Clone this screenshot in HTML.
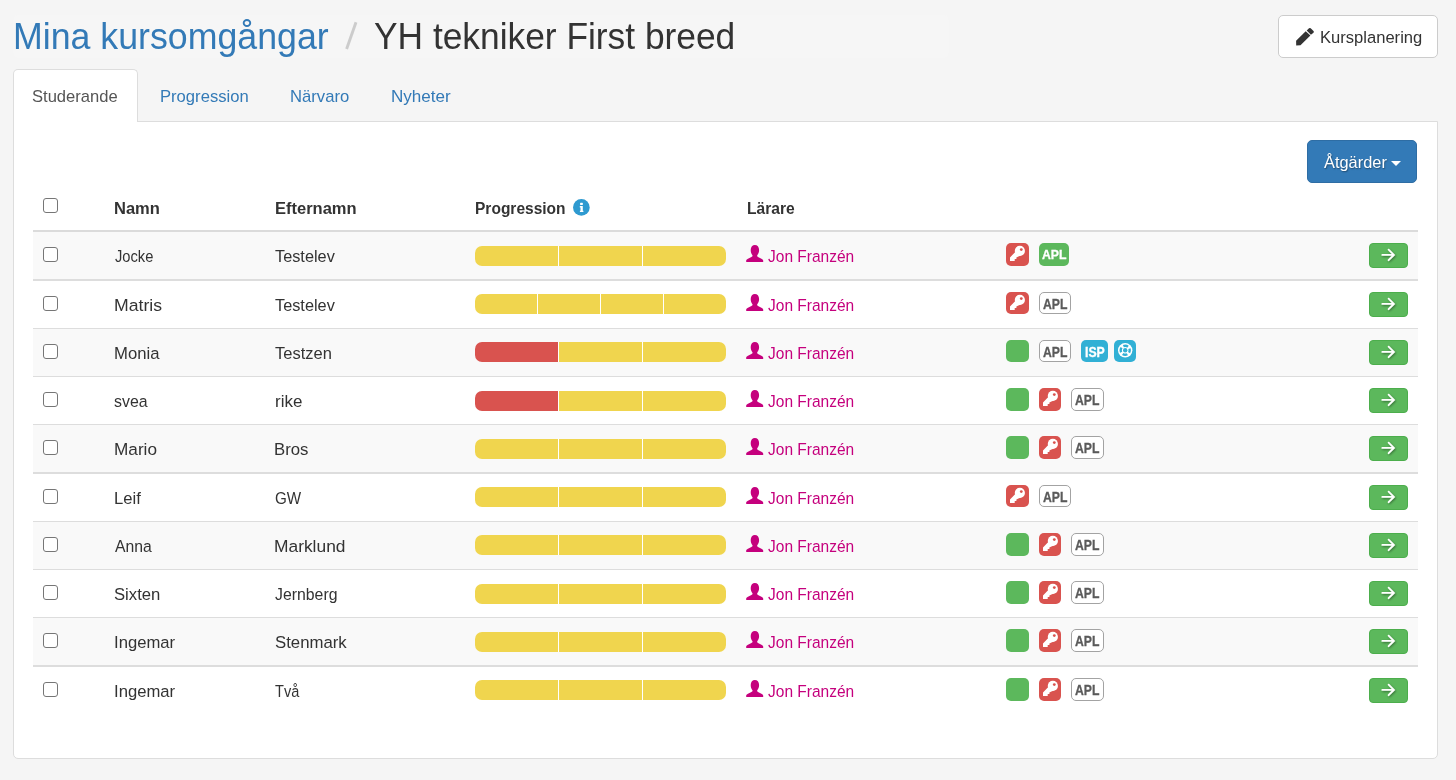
<!DOCTYPE html>
<html lang="sv"><head><meta charset="utf-8"><title>Mina kursomgångar</title>
<style>
html,body{margin:0;padding:0;}
body{width:1456px;height:780px;overflow:hidden;background:#f5f5f5;font-family:"Liberation Sans",sans-serif;position:relative;}
.t{position:absolute;white-space:nowrap;line-height:1;transform-origin:0 0;}
.abs{position:absolute;}
.crumb{left:13px;top:15px;width:936px;height:43px;background:#f6f6f6;border-radius:5px;}
.panel{left:13px;top:121px;width:1423px;height:636px;background:#fff;border:1px solid #ddd;border-radius:0 0 5px 5px;}
.tab{left:13px;top:69px;width:123px;height:52px;background:#fff;border:1px solid #ddd;border-bottom:none;border-radius:5px 5px 0 0;}
.btn-def{left:1278px;top:15px;width:158px;height:41px;background:#fff;border:1px solid #ccc;border-radius:5px;}
.btn-pri{left:1307px;top:140px;width:110px;height:43px;background:#337ab7;border:1px solid #2e6da4;box-sizing:border-box;border-radius:5px;}
.caret{left:1391px;top:161px;width:0;height:0;border-left:5px solid transparent;border-right:5px solid transparent;border-top:5px solid #fff;}
.hl{left:33px;width:1385px;background:#ddd;}
.rowbg{left:33px;width:1385px;background:#f9f9f9;}
.cb{width:13px;height:13px;border:1px solid #767676;border-radius:3px;background:#fff;}
.bar{left:475px;width:251px;height:20px;border-radius:7px;overflow:hidden;background:#fff;}
.seg{position:absolute;top:0;height:20px;}
.y{background:#f0d54e;}
.r{background:#d9534f;}
.go{left:1369px;width:39px;height:25px;background:#5cb85c;border:1px solid #4cae4c;box-sizing:border-box;border-radius:4px;}
.bdg{border-radius:5px;}
.g{background:#5cb85c;}
.d{background:#d9534f;}
.i{background:#31b0d5;}
.w{background:#fff;border:1px solid #a3a3a3;box-sizing:border-box;}
svg{position:absolute;display:block;overflow:visible;}
</style></head><body>

<div class="abs crumb"></div>
<span class="t" id="h1a" style="left:13.11px;top:17.98px;font-size:37px;color:#337ab7;transform:scaleX(0.9654);">Mina kursomgångar</span>
<svg style="left:340px;top:18px" width="24" height="36" viewBox="0 0 24 36"><path d="M6.6 31L16.0 4.3" stroke="#ccc" stroke-width="2.9" fill="none"/></svg>
<span class="t" id="h1b" style="left:373.57px;top:17.98px;font-size:37px;color:#333;transform:scaleX(0.9548);">YH tekniker First breed</span>
<div class="abs btn-def"></div>
<svg id="pencil" style="left:1296px;top:27.5px" width="18" height="18" viewBox="0 0 18 18"><path fill="#333" d="M10.7 2.6L13.0 0.3Q13.9 -0.5 14.7 0.3L17.5 3.0Q18.3 3.9 17.5 4.7L14.9 6.8ZM9.7 3.2L14.4 7.5L4.5 17.2L0.2 17.45L0.1 12.7Z"/></svg>
<span class="t" id="kurs" style="left:1320.13px;top:30.32px;font-size:16.75px;color:#333;transform:scaleX(0.9894);">Kursplanering</span>
<div class="abs panel"></div>
<div class="abs tab"></div>
<span class="t" id="tab1" style="left:32.24px;top:87.91px;font-size:17px;color:#555;transform:scaleX(0.9742);">Studerande</span>
<span class="t" id="tab2" style="left:159.67px;top:87.91px;font-size:17px;color:#337ab7;transform:scaleX(0.9778);">Progression</span>
<span class="t" id="tab3" style="left:290.16px;top:87.91px;font-size:17px;color:#337ab7;transform:scaleX(0.9795);">Närvaro</span>
<span class="t" id="tab4" style="left:391.08px;top:87.91px;font-size:17px;color:#337ab7;transform:scaleX(1.0039);">Nyheter</span>
<div class="abs btn-pri"></div>
<span class="t" id="atg" style="left:1323.84px;top:154.11px;font-size:17px;color:#fff;transform:scaleX(0.9637);text-shadow:0.7px 1px 1.5px rgba(0,0,0,.4);">Åtgärder</span>
<div class="abs caret"></div>
<div class="abs cb" style="left:43px;top:198px"></div>
<span class="t" id="th1" style="left:114.16px;top:200.82px;font-size:16.75px;color:#333;font-weight:700;transform:scaleX(0.9850);">Namn</span>
<span class="t" id="th2" style="left:274.64px;top:200.82px;font-size:16.75px;color:#333;font-weight:700;transform:scaleX(0.9849);">Efternamn</span>
<span class="t" id="th3" style="left:475.32px;top:200.82px;font-size:16.75px;color:#333;font-weight:700;transform:scaleX(0.9269);">Progression</span>
<span class="t" id="th4" style="left:746.54px;top:200.82px;font-size:16.75px;color:#333;font-weight:700;transform:scaleX(0.9331);">Lärare</span>
<svg id="info" style="left:572.7px;top:199px" width="17" height="17" viewBox="0 0 17 17"><circle cx="8.35" cy="8.4" r="8.35" fill="#2e9ad0"/><rect x="7.1" y="3.8" width="2.7" height="2.1" rx=".5" fill="#fff"/><path fill="#fff" d="M6.8 7h3.0v4.7h.6v1.2H6.9v-1.2h.6V8.400000000000001H6.8z"/></svg>
<div class="abs hl" style="top:230px;height:2px;background:#dbdbdb"></div>
<div class="abs rowbg" style="top:232px;height:47px"></div>
<div class="abs hl" style="top:279px;height:2px"></div>
<div class="abs cb" style="left:43px;top:247px"></div>
<span class="t" id="fn0" style="left:114.55px;top:249.07px;font-size:16.75px;color:#333;transform:scaleX(0.8775);">Jocke</span>
<span class="t" id="ln0" style="left:275.10px;top:249.07px;font-size:16.75px;color:#333;transform:scaleX(0.9728);">Testelev</span>
<div class="abs bar" style="top:246px">
<div class="seg y" style="left:0px;width:83px"></div>
<div class="seg y" style="left:84px;width:83px"></div>
<div class="seg y" style="left:168px;width:83px"></div>
</div>
<svg style="left:746px;top:245px" width="18" height="18" viewBox="0 0 18 18"><path fill="#c5007d" d="M8.9 0.1C11.3 0.1 13.1 2.1 13.1 5C13.1 7.3 12.3 9.2 11.2 10.2V10.9C11.2 11.4 11.5 11.7 12 11.9L15.9 14C16.8 14.5 17.2 15 17.2 15.8V16.9H0.2V15.8C0.2 15 0.6 14.5 1.5 14L5.4 11.9C5.9 11.7 6.5 11.4 6.5 10.9V10.2C5.4 9.2 4.7 7.3 4.7 5C4.7 2.1 6.5 0.1 8.9 0.1Z"/></svg>
<span class="t" id="tc0" style="left:767.71px;top:248.97px;font-size:16.75px;color:#c5007d;transform:scaleX(0.9258);">Jon Franzén</span>
<div class="abs bdg d" style="left:1006px;top:243px;width:23px;height:23px"></div>
<svg style="left:1006px;top:242.7px" width="23" height="23" viewBox="0 0 23 23"><circle cx="13.85" cy="7.9" r="5.1" fill="#fff"/><path fill="#fff" d="M9.3 8.9L4 14.4V17.95H8.7V16.1H10.4V14.4L12.4 13.4L15 12.6Z"/><circle cx="15.3" cy="6.6" r="1.4" fill="#d9534f"/></svg>
<div class="abs bdg g" style="left:1039px;top:243px;width:30px;height:23px"></div>
<span class="t" id="aplg0" style="left:1041.50px;top:247.57px;font-size:13.5px;color:#fff;font-weight:700;transform:scaleX(0.9083);-webkit-text-stroke:0.3px #fff;">APL</span>
<div class="abs go" style="top:243px"></div>
<svg style="left:1379px;top:246.0px" width="20" height="20" viewBox="0 0 20 20"><g filter="url(#sh)"><path fill="none" stroke="#fff" stroke-width="1.8" stroke-linecap="round" stroke-linejoin="miter" d="M3.3 8.9H14.3M9.6 3.6L14.9 8.9L9.6 14.2"/></g></svg>
<div class="abs hl" style="top:328px;height:1px"></div>
<div class="abs cb" style="left:43px;top:296px"></div>
<span class="t" id="fn1" style="left:113.65px;top:298.07px;font-size:16.75px;color:#333;transform:scaleX(1.0530);">Matris</span>
<span class="t" id="ln1" style="left:275.10px;top:298.07px;font-size:16.75px;color:#333;transform:scaleX(0.9728);">Testelev</span>
<div class="abs bar" style="top:294px">
<div class="seg y" style="left:0px;width:62px"></div>
<div class="seg y" style="left:63px;width:62px"></div>
<div class="seg y" style="left:126px;width:62px"></div>
<div class="seg y" style="left:189px;width:62px"></div>
</div>
<svg style="left:746px;top:294px" width="18" height="18" viewBox="0 0 18 18"><path fill="#c5007d" d="M8.9 0.1C11.3 0.1 13.1 2.1 13.1 5C13.1 7.3 12.3 9.2 11.2 10.2V10.9C11.2 11.4 11.5 11.7 12 11.9L15.9 14C16.8 14.5 17.2 15 17.2 15.8V16.9H0.2V15.8C0.2 15 0.6 14.5 1.5 14L5.4 11.9C5.9 11.7 6.5 11.4 6.5 10.9V10.2C5.4 9.2 4.7 7.3 4.7 5C4.7 2.1 6.5 0.1 8.9 0.1Z"/></svg>
<span class="t" id="tc1" style="left:767.72px;top:297.97px;font-size:16.75px;color:#c5007d;transform:scaleX(0.9257);">Jon Franzén</span>
<div class="abs bdg d" style="left:1006px;top:292px;width:23px;height:22px"></div>
<svg style="left:1006px;top:291.7px" width="23" height="23" viewBox="0 0 23 23"><circle cx="13.85" cy="7.9" r="5.1" fill="#fff"/><path fill="#fff" d="M9.3 8.9L4 14.4V17.95H8.7V16.1H10.4V14.4L12.4 13.4L15 12.6Z"/><circle cx="15.3" cy="6.6" r="1.4" fill="#d9534f"/></svg>
<div class="abs bdg w" style="left:1039px;top:292px;width:32px;height:22px"></div>
<span class="t" id="apl1" style="left:1043.20px;top:297.15px;font-size:14px;color:#5a5a5a;font-weight:700;transform:scaleX(0.8718);-webkit-text-stroke:0.3px #5a5a5a;">APL</span>
<div class="abs go" style="top:292px"></div>
<svg style="left:1379px;top:295.0px" width="20" height="20" viewBox="0 0 20 20"><g filter="url(#sh)"><path fill="none" stroke="#fff" stroke-width="1.8" stroke-linecap="round" stroke-linejoin="miter" d="M3.3 8.9H14.3M9.6 3.6L14.9 8.9L9.6 14.2"/></g></svg>
<div class="abs rowbg" style="top:329px;height:47px"></div>
<div class="abs hl" style="top:376px;height:1px"></div>
<div class="abs cb" style="left:43px;top:344px"></div>
<span class="t" id="fn2" style="left:113.61px;top:346.07px;font-size:16.75px;color:#333;transform:scaleX(0.9957);">Monia</span>
<span class="t" id="ln2" style="left:275.09px;top:346.07px;font-size:16.75px;color:#333;transform:scaleX(0.9844);">Testzen</span>
<div class="abs bar" style="top:342px">
<div class="seg r" style="left:0px;width:83px"></div>
<div class="seg y" style="left:84px;width:83px"></div>
<div class="seg y" style="left:168px;width:83px"></div>
</div>
<svg style="left:746px;top:342px" width="18" height="18" viewBox="0 0 18 18"><path fill="#c5007d" d="M8.9 0.1C11.3 0.1 13.1 2.1 13.1 5C13.1 7.3 12.3 9.2 11.2 10.2V10.9C11.2 11.4 11.5 11.7 12 11.9L15.9 14C16.8 14.5 17.2 15 17.2 15.8V16.9H0.2V15.8C0.2 15 0.6 14.5 1.5 14L5.4 11.9C5.9 11.7 6.5 11.4 6.5 10.9V10.2C5.4 9.2 4.7 7.3 4.7 5C4.7 2.1 6.5 0.1 8.9 0.1Z"/></svg>
<span class="t" id="tc2" style="left:767.71px;top:345.97px;font-size:16.75px;color:#c5007d;transform:scaleX(0.9258);">Jon Franzén</span>
<div class="abs bdg g" style="left:1006px;top:340px;width:23px;height:22px"></div>
<div class="abs bdg w" style="left:1039px;top:340px;width:32px;height:22px"></div>
<span class="t" id="apl2" style="left:1043.20px;top:345.15px;font-size:14px;color:#5a5a5a;font-weight:700;transform:scaleX(0.8718);-webkit-text-stroke:0.3px #5a5a5a;">APL</span>
<div class="abs bdg i" style="left:1081px;top:340px;width:27px;height:22px"></div>
<span class="t" id="isp2" style="left:1085.30px;top:345.15px;font-size:14px;color:#fff;font-weight:700;transform:scaleX(0.8773);-webkit-text-stroke:0.3px #fff;">ISP</span>
<div class="abs bdg i" style="left:1114px;top:340px;width:22px;height:22px"></div>
<svg style="left:1114px;top:340px" width="22" height="22" viewBox="0 0 22 22"><circle cx="11.2" cy="10.3" r="7.2" fill="#fff"/><circle cx="11.2" cy="10.3" r="4.5" fill="none" stroke="#31b0d5" stroke-width="2.4" stroke-dasharray="4.9 2.17" stroke-dashoffset="2.45"/><circle cx="11.2" cy="10.3" r="2.2" fill="#31b0d5"/></svg>
<div class="abs go" style="top:340px"></div>
<svg style="left:1379px;top:343.0px" width="20" height="20" viewBox="0 0 20 20"><g filter="url(#sh)"><path fill="none" stroke="#fff" stroke-width="1.8" stroke-linecap="round" stroke-linejoin="miter" d="M3.3 8.9H14.3M9.6 3.6L14.9 8.9L9.6 14.2"/></g></svg>
<div class="abs hl" style="top:424px;height:1px"></div>
<div class="abs cb" style="left:43px;top:392px"></div>
<span class="t" id="fn3" style="left:113.74px;top:394.07px;font-size:16.75px;color:#333;transform:scaleX(0.9491);">svea</span>
<span class="t" id="ln3" style="left:274.55px;top:394.07px;font-size:16.75px;color:#333;transform:scaleX(1.0131);">rike</span>
<div class="abs bar" style="top:391px">
<div class="seg r" style="left:0px;width:83px"></div>
<div class="seg y" style="left:84px;width:83px"></div>
<div class="seg y" style="left:168px;width:83px"></div>
</div>
<svg style="left:746px;top:390px" width="18" height="18" viewBox="0 0 18 18"><path fill="#c5007d" d="M8.9 0.1C11.3 0.1 13.1 2.1 13.1 5C13.1 7.3 12.3 9.2 11.2 10.2V10.9C11.2 11.4 11.5 11.7 12 11.9L15.9 14C16.8 14.5 17.2 15 17.2 15.8V16.9H0.2V15.8C0.2 15 0.6 14.5 1.5 14L5.4 11.9C5.9 11.7 6.5 11.4 6.5 10.9V10.2C5.4 9.2 4.7 7.3 4.7 5C4.7 2.1 6.5 0.1 8.9 0.1Z"/></svg>
<span class="t" id="tc3" style="left:767.72px;top:393.97px;font-size:16.75px;color:#c5007d;transform:scaleX(0.9257);">Jon Franzén</span>
<div class="abs bdg g" style="left:1006px;top:388px;width:23px;height:23px"></div>
<div class="abs bdg d" style="left:1039px;top:388px;width:22px;height:23px"></div>
<svg style="left:1039px;top:387.7px" width="23" height="23" viewBox="0 0 23 23"><circle cx="13.85" cy="7.9" r="5.1" fill="#fff"/><path fill="#fff" d="M9.3 8.9L4 14.4V17.95H8.7V16.1H10.4V14.4L12.4 13.4L15 12.6Z"/><circle cx="15.3" cy="6.6" r="1.4" fill="#d9534f"/></svg>
<div class="abs bdg w" style="left:1071px;top:388px;width:33px;height:23px"></div>
<span class="t" id="apl3" style="left:1075.20px;top:393.15px;font-size:14px;color:#5a5a5a;font-weight:700;transform:scaleX(0.8718);-webkit-text-stroke:0.3px #5a5a5a;">APL</span>
<div class="abs go" style="top:388px"></div>
<svg style="left:1379px;top:391.0px" width="20" height="20" viewBox="0 0 20 20"><g filter="url(#sh)"><path fill="none" stroke="#fff" stroke-width="1.8" stroke-linecap="round" stroke-linejoin="miter" d="M3.3 8.9H14.3M9.6 3.6L14.9 8.9L9.6 14.2"/></g></svg>
<div class="abs rowbg" style="top:425px;height:47px"></div>
<div class="abs hl" style="top:472px;height:2px"></div>
<div class="abs cb" style="left:43px;top:440px"></div>
<span class="t" id="fn4" style="left:113.73px;top:442.07px;font-size:16.75px;color:#333;transform:scaleX(1.0264);">Mario</span>
<span class="t" id="ln4" style="left:274.09px;top:442.07px;font-size:16.75px;color:#333;transform:scaleX(1.0007);">Bros</span>
<div class="abs bar" style="top:439px">
<div class="seg y" style="left:0px;width:83px"></div>
<div class="seg y" style="left:84px;width:83px"></div>
<div class="seg y" style="left:168px;width:83px"></div>
</div>
<svg style="left:746px;top:438px" width="18" height="18" viewBox="0 0 18 18"><path fill="#c5007d" d="M8.9 0.1C11.3 0.1 13.1 2.1 13.1 5C13.1 7.3 12.3 9.2 11.2 10.2V10.9C11.2 11.4 11.5 11.7 12 11.9L15.9 14C16.8 14.5 17.2 15 17.2 15.8V16.9H0.2V15.8C0.2 15 0.6 14.5 1.5 14L5.4 11.9C5.9 11.7 6.5 11.4 6.5 10.9V10.2C5.4 9.2 4.7 7.3 4.7 5C4.7 2.1 6.5 0.1 8.9 0.1Z"/></svg>
<span class="t" id="tc4" style="left:767.71px;top:441.97px;font-size:16.75px;color:#c5007d;transform:scaleX(0.9258);">Jon Franzén</span>
<div class="abs bdg g" style="left:1006px;top:436px;width:23px;height:23px"></div>
<div class="abs bdg d" style="left:1039px;top:436px;width:22px;height:23px"></div>
<svg style="left:1039px;top:435.7px" width="23" height="23" viewBox="0 0 23 23"><circle cx="13.85" cy="7.9" r="5.1" fill="#fff"/><path fill="#fff" d="M9.3 8.9L4 14.4V17.95H8.7V16.1H10.4V14.4L12.4 13.4L15 12.6Z"/><circle cx="15.3" cy="6.6" r="1.4" fill="#d9534f"/></svg>
<div class="abs bdg w" style="left:1071px;top:436px;width:33px;height:23px"></div>
<span class="t" id="apl4" style="left:1075.20px;top:441.15px;font-size:14px;color:#5a5a5a;font-weight:700;transform:scaleX(0.8718);-webkit-text-stroke:0.3px #5a5a5a;">APL</span>
<div class="abs go" style="top:436px"></div>
<svg style="left:1379px;top:439.0px" width="20" height="20" viewBox="0 0 20 20"><g filter="url(#sh)"><path fill="none" stroke="#fff" stroke-width="1.8" stroke-linecap="round" stroke-linejoin="miter" d="M3.3 8.9H14.3M9.6 3.6L14.9 8.9L9.6 14.2"/></g></svg>
<div class="abs hl" style="top:521px;height:1px"></div>
<div class="abs cb" style="left:43px;top:489px"></div>
<span class="t" id="fn5" style="left:113.63px;top:491.07px;font-size:16.75px;color:#333;transform:scaleX(0.9920);">Leif</span>
<span class="t" id="ln5" style="left:274.53px;top:491.07px;font-size:16.75px;color:#333;transform:scaleX(0.9075);">GW</span>
<div class="abs bar" style="top:487px">
<div class="seg y" style="left:0px;width:83px"></div>
<div class="seg y" style="left:84px;width:83px"></div>
<div class="seg y" style="left:168px;width:83px"></div>
</div>
<svg style="left:746px;top:487px" width="18" height="18" viewBox="0 0 18 18"><path fill="#c5007d" d="M8.9 0.1C11.3 0.1 13.1 2.1 13.1 5C13.1 7.3 12.3 9.2 11.2 10.2V10.9C11.2 11.4 11.5 11.7 12 11.9L15.9 14C16.8 14.5 17.2 15 17.2 15.8V16.9H0.2V15.8C0.2 15 0.6 14.5 1.5 14L5.4 11.9C5.9 11.7 6.5 11.4 6.5 10.9V10.2C5.4 9.2 4.7 7.3 4.7 5C4.7 2.1 6.5 0.1 8.9 0.1Z"/></svg>
<span class="t" id="tc5" style="left:767.72px;top:490.97px;font-size:16.75px;color:#c5007d;transform:scaleX(0.9257);">Jon Franzén</span>
<div class="abs bdg d" style="left:1006px;top:485px;width:23px;height:22px"></div>
<svg style="left:1006px;top:484.7px" width="23" height="23" viewBox="0 0 23 23"><circle cx="13.85" cy="7.9" r="5.1" fill="#fff"/><path fill="#fff" d="M9.3 8.9L4 14.4V17.95H8.7V16.1H10.4V14.4L12.4 13.4L15 12.6Z"/><circle cx="15.3" cy="6.6" r="1.4" fill="#d9534f"/></svg>
<div class="abs bdg w" style="left:1039px;top:485px;width:32px;height:22px"></div>
<span class="t" id="apl5" style="left:1043.20px;top:490.15px;font-size:14px;color:#5a5a5a;font-weight:700;transform:scaleX(0.8718);-webkit-text-stroke:0.3px #5a5a5a;">APL</span>
<div class="abs go" style="top:485px"></div>
<svg style="left:1379px;top:488.0px" width="20" height="20" viewBox="0 0 20 20"><g filter="url(#sh)"><path fill="none" stroke="#fff" stroke-width="1.8" stroke-linecap="round" stroke-linejoin="miter" d="M3.3 8.9H14.3M9.6 3.6L14.9 8.9L9.6 14.2"/></g></svg>
<div class="abs rowbg" style="top:522px;height:47px"></div>
<div class="abs hl" style="top:569px;height:1px"></div>
<div class="abs cb" style="left:43px;top:537px"></div>
<span class="t" id="fn6" style="left:114.91px;top:539.07px;font-size:16.75px;color:#333;transform:scaleX(0.9395);">Anna</span>
<span class="t" id="ln6" style="left:273.71px;top:539.07px;font-size:16.75px;color:#333;transform:scaleX(1.0374);">Marklund</span>
<div class="abs bar" style="top:535px">
<div class="seg y" style="left:0px;width:83px"></div>
<div class="seg y" style="left:84px;width:83px"></div>
<div class="seg y" style="left:168px;width:83px"></div>
</div>
<svg style="left:746px;top:535px" width="18" height="18" viewBox="0 0 18 18"><path fill="#c5007d" d="M8.9 0.1C11.3 0.1 13.1 2.1 13.1 5C13.1 7.3 12.3 9.2 11.2 10.2V10.9C11.2 11.4 11.5 11.7 12 11.9L15.9 14C16.8 14.5 17.2 15 17.2 15.8V16.9H0.2V15.8C0.2 15 0.6 14.5 1.5 14L5.4 11.9C5.9 11.7 6.5 11.4 6.5 10.9V10.2C5.4 9.2 4.7 7.3 4.7 5C4.7 2.1 6.5 0.1 8.9 0.1Z"/></svg>
<span class="t" id="tc6" style="left:767.71px;top:538.97px;font-size:16.75px;color:#c5007d;transform:scaleX(0.9258);">Jon Franzén</span>
<div class="abs bdg g" style="left:1006px;top:533px;width:23px;height:23px"></div>
<div class="abs bdg d" style="left:1039px;top:533px;width:22px;height:23px"></div>
<svg style="left:1039px;top:532.7px" width="23" height="23" viewBox="0 0 23 23"><circle cx="13.85" cy="7.9" r="5.1" fill="#fff"/><path fill="#fff" d="M9.3 8.9L4 14.4V17.95H8.7V16.1H10.4V14.4L12.4 13.4L15 12.6Z"/><circle cx="15.3" cy="6.6" r="1.4" fill="#d9534f"/></svg>
<div class="abs bdg w" style="left:1071px;top:533px;width:33px;height:23px"></div>
<span class="t" id="apl6" style="left:1075.20px;top:538.15px;font-size:14px;color:#5a5a5a;font-weight:700;transform:scaleX(0.8718);-webkit-text-stroke:0.3px #5a5a5a;">APL</span>
<div class="abs go" style="top:533px"></div>
<svg style="left:1379px;top:536.0px" width="20" height="20" viewBox="0 0 20 20"><g filter="url(#sh)"><path fill="none" stroke="#fff" stroke-width="1.8" stroke-linecap="round" stroke-linejoin="miter" d="M3.3 8.9H14.3M9.6 3.6L14.9 8.9L9.6 14.2"/></g></svg>
<div class="abs hl" style="top:617px;height:1px"></div>
<div class="abs cb" style="left:43px;top:585px"></div>
<span class="t" id="fn7" style="left:114.24px;top:587.07px;font-size:16.75px;color:#333;transform:scaleX(0.9949);">Sixten</span>
<span class="t" id="ln7" style="left:275.01px;top:587.07px;font-size:16.75px;color:#333;transform:scaleX(0.9447);">Jernberg</span>
<div class="abs bar" style="top:584px">
<div class="seg y" style="left:0px;width:83px"></div>
<div class="seg y" style="left:84px;width:83px"></div>
<div class="seg y" style="left:168px;width:83px"></div>
</div>
<svg style="left:746px;top:583px" width="18" height="18" viewBox="0 0 18 18"><path fill="#c5007d" d="M8.9 0.1C11.3 0.1 13.1 2.1 13.1 5C13.1 7.3 12.3 9.2 11.2 10.2V10.9C11.2 11.4 11.5 11.7 12 11.9L15.9 14C16.8 14.5 17.2 15 17.2 15.8V16.9H0.2V15.8C0.2 15 0.6 14.5 1.5 14L5.4 11.9C5.9 11.7 6.5 11.4 6.5 10.9V10.2C5.4 9.2 4.7 7.3 4.7 5C4.7 2.1 6.5 0.1 8.9 0.1Z"/></svg>
<span class="t" id="tc7" style="left:767.72px;top:586.97px;font-size:16.75px;color:#c5007d;transform:scaleX(0.9257);">Jon Franzén</span>
<div class="abs bdg g" style="left:1006px;top:581px;width:23px;height:23px"></div>
<div class="abs bdg d" style="left:1039px;top:581px;width:22px;height:23px"></div>
<svg style="left:1039px;top:580.7px" width="23" height="23" viewBox="0 0 23 23"><circle cx="13.85" cy="7.9" r="5.1" fill="#fff"/><path fill="#fff" d="M9.3 8.9L4 14.4V17.95H8.7V16.1H10.4V14.4L12.4 13.4L15 12.6Z"/><circle cx="15.3" cy="6.6" r="1.4" fill="#d9534f"/></svg>
<div class="abs bdg w" style="left:1071px;top:581px;width:33px;height:23px"></div>
<span class="t" id="apl7" style="left:1075.20px;top:586.15px;font-size:14px;color:#5a5a5a;font-weight:700;transform:scaleX(0.8718);-webkit-text-stroke:0.3px #5a5a5a;">APL</span>
<div class="abs go" style="top:581px"></div>
<svg style="left:1379px;top:584.0px" width="20" height="20" viewBox="0 0 20 20"><g filter="url(#sh)"><path fill="none" stroke="#fff" stroke-width="1.8" stroke-linecap="round" stroke-linejoin="miter" d="M3.3 8.9H14.3M9.6 3.6L14.9 8.9L9.6 14.2"/></g></svg>
<div class="abs rowbg" style="top:618px;height:47px"></div>
<div class="abs hl" style="top:665px;height:2px"></div>
<div class="abs cb" style="left:43px;top:633px"></div>
<span class="t" id="fn8" style="left:113.53px;top:635.07px;font-size:16.75px;color:#333;transform:scaleX(0.9939);">Ingemar</span>
<span class="t" id="ln8" style="left:274.69px;top:635.07px;font-size:16.75px;color:#333;transform:scaleX(1.0007);">Stenmark</span>
<div class="abs bar" style="top:632px">
<div class="seg y" style="left:0px;width:83px"></div>
<div class="seg y" style="left:84px;width:83px"></div>
<div class="seg y" style="left:168px;width:83px"></div>
</div>
<svg style="left:746px;top:631px" width="18" height="18" viewBox="0 0 18 18"><path fill="#c5007d" d="M8.9 0.1C11.3 0.1 13.1 2.1 13.1 5C13.1 7.3 12.3 9.2 11.2 10.2V10.9C11.2 11.4 11.5 11.7 12 11.9L15.9 14C16.8 14.5 17.2 15 17.2 15.8V16.9H0.2V15.8C0.2 15 0.6 14.5 1.5 14L5.4 11.9C5.9 11.7 6.5 11.4 6.5 10.9V10.2C5.4 9.2 4.7 7.3 4.7 5C4.7 2.1 6.5 0.1 8.9 0.1Z"/></svg>
<span class="t" id="tc8" style="left:767.71px;top:634.97px;font-size:16.75px;color:#c5007d;transform:scaleX(0.9258);">Jon Franzén</span>
<div class="abs bdg g" style="left:1006px;top:629px;width:23px;height:23px"></div>
<div class="abs bdg d" style="left:1039px;top:629px;width:22px;height:23px"></div>
<svg style="left:1039px;top:628.7px" width="23" height="23" viewBox="0 0 23 23"><circle cx="13.85" cy="7.9" r="5.1" fill="#fff"/><path fill="#fff" d="M9.3 8.9L4 14.4V17.95H8.7V16.1H10.4V14.4L12.4 13.4L15 12.6Z"/><circle cx="15.3" cy="6.6" r="1.4" fill="#d9534f"/></svg>
<div class="abs bdg w" style="left:1071px;top:629px;width:33px;height:23px"></div>
<span class="t" id="apl8" style="left:1075.20px;top:634.15px;font-size:14px;color:#5a5a5a;font-weight:700;transform:scaleX(0.8718);-webkit-text-stroke:0.3px #5a5a5a;">APL</span>
<div class="abs go" style="top:629px"></div>
<svg style="left:1379px;top:632.0px" width="20" height="20" viewBox="0 0 20 20"><g filter="url(#sh)"><path fill="none" stroke="#fff" stroke-width="1.8" stroke-linecap="round" stroke-linejoin="miter" d="M3.3 8.9H14.3M9.6 3.6L14.9 8.9L9.6 14.2"/></g></svg>
<div class="abs cb" style="left:43px;top:682px"></div>
<span class="t" id="fn9" style="left:113.54px;top:684.07px;font-size:16.75px;color:#333;transform:scaleX(0.9939);">Ingemar</span>
<span class="t" id="ln9" style="left:275.19px;top:684.07px;font-size:16.75px;color:#333;transform:scaleX(0.8678);">Två</span>
<div class="abs bar" style="top:680px">
<div class="seg y" style="left:0px;width:83px"></div>
<div class="seg y" style="left:84px;width:83px"></div>
<div class="seg y" style="left:168px;width:83px"></div>
</div>
<svg style="left:746px;top:680px" width="18" height="18" viewBox="0 0 18 18"><path fill="#c5007d" d="M8.9 0.1C11.3 0.1 13.1 2.1 13.1 5C13.1 7.3 12.3 9.2 11.2 10.2V10.9C11.2 11.4 11.5 11.7 12 11.9L15.9 14C16.8 14.5 17.2 15 17.2 15.8V16.9H0.2V15.8C0.2 15 0.6 14.5 1.5 14L5.4 11.9C5.9 11.7 6.5 11.4 6.5 10.9V10.2C5.4 9.2 4.7 7.3 4.7 5C4.7 2.1 6.5 0.1 8.9 0.1Z"/></svg>
<span class="t" id="tc9" style="left:767.72px;top:683.97px;font-size:16.75px;color:#c5007d;transform:scaleX(0.9257);">Jon Franzén</span>
<div class="abs bdg g" style="left:1006px;top:678px;width:23px;height:23px"></div>
<div class="abs bdg d" style="left:1039px;top:678px;width:22px;height:23px"></div>
<svg style="left:1039px;top:677.7px" width="23" height="23" viewBox="0 0 23 23"><circle cx="13.85" cy="7.9" r="5.1" fill="#fff"/><path fill="#fff" d="M9.3 8.9L4 14.4V17.95H8.7V16.1H10.4V14.4L12.4 13.4L15 12.6Z"/><circle cx="15.3" cy="6.6" r="1.4" fill="#d9534f"/></svg>
<div class="abs bdg w" style="left:1071px;top:678px;width:33px;height:23px"></div>
<span class="t" id="apl9" style="left:1075.20px;top:683.15px;font-size:14px;color:#5a5a5a;font-weight:700;transform:scaleX(0.8718);-webkit-text-stroke:0.3px #5a5a5a;">APL</span>
<div class="abs go" style="top:678px"></div>
<svg style="left:1379px;top:681.0px" width="20" height="20" viewBox="0 0 20 20"><g filter="url(#sh)"><path fill="none" stroke="#fff" stroke-width="1.8" stroke-linecap="round" stroke-linejoin="miter" d="M3.3 8.9H14.3M9.6 3.6L14.9 8.9L9.6 14.2"/></g></svg>
<svg width="0" height="0" style="left:0;top:0"><defs><filter id="sh" x="-30%" y="-30%" width="160%" height="180%"><feDropShadow dx="0.8" dy="1" stdDeviation="0.9" flood-color="#000" flood-opacity=".45"/></filter></defs></svg>
</body></html>
